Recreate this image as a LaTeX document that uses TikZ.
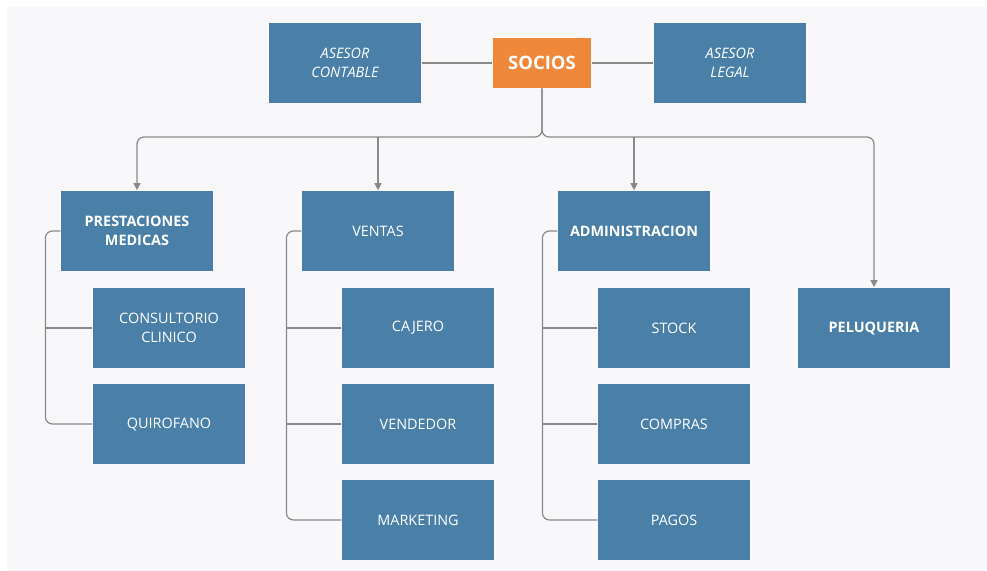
\documentclass[tikz,border=0pt]{standalone}
\usepackage{fontspec}
\setmainfont{Open Sans}
\usepackage{tikz}
\usetikzlibrary{arrows.meta}
\definecolor{boxblue}{HTML}{4A7FA7}
\definecolor{boxorange}{HTML}{F0883C}
\definecolor{linegray}{HTML}{8A8A8A}
\definecolor{paper}{HTML}{F8F8FB}
\tikzset{
    area/.style={fill=boxblue, text=white, minimum width=3.05cm, minimum height=1.62cm,
        align=center, font=\fontsize{8.2}{10.5}\selectfont, inner sep=2pt},
    head/.style={area, font=\fontsize{8.2}{10.5}\selectfont\bfseries},
    line/.style={draw=linegray, line width=0.7pt},
    arr/.style={line, -{Triangle[length=4pt,width=4pt]}}
}
\newcommand{\drawBracket}[2]{\draw [line, rounded corners=4pt] (#1.west) -- ++(-15,0) |- (#2.west)}

\begin{document}
\begin{tikzpicture}[x=0.02cm, y=-0.02cm]
    \fill [white] (0,0) rectangle (987,571);
    \fill [paper] (7,7) rectangle (987,571);
    \useasboundingbox (0,0) rectangle (987,571);

    %top row
    \node [fill=boxorange, text=white, minimum width=1.98cm, minimum height=1.0cm,
        font=\fontsize{10.5}{12}\selectfont\bfseries] (socios) at (542,63) {SOCIOS};
    \node [area, font=\fontsize{8.2}{10.5}\selectfont\itshape] (contable) at (345,63) {ASESOR\\CONTABLE};
    \node [area, font=\fontsize{8.2}{10.5}\selectfont\itshape] (legal) at (730,63) {ASESOR\\LEGAL};
    \draw [line] (contable) -- (socios);
    \draw [line] (socios) -- (legal);

    %second row
    \node [head] (prest) at (137,231) {PRESTACIONES\\MEDICAS};
    \node [area] (ventas) at (378,231) {VENTAS};
    \node [head] (admin) at (634,231) {ADMINISTRACION};
    \node [head] (peluq) at (874,328) {PELUQUERIA};

    %for socios
    \coordinate (trunk) at (542,137);
    \draw [arr, rounded corners=4pt] (socios.south) -- (trunk) -| (prest.north);
    \draw [arr, rounded corners=4pt] (socios.south) -- (trunk) -| (peluq.north);
    \draw [arr] (trunk -| ventas.north) -- (ventas.north);
    \draw [arr] (trunk -| admin.north) -- (admin.north);

    %for prestaciones medicas
    \node [area] (consult) at (169,328) {CONSULTORIO\\CLINICO};
    \node [area] (quirof) at (169,424) {QUIROFANO};
    \drawBracket{prest}{quirof};
    \draw [line] (consult.west) -- ++(-47,0);

    %for ventas
    \node [area] (cajero) at (418,328) {CAJERO};
    \node [area] (vended) at (418,424) {VENDEDOR};
    \node [area] (market) at (418,520) {MARKETING};
    \drawBracket{ventas}{market};
    \draw [line] (cajero.west) -- ++(-54,0);
    \draw [line] (vended.west) -- ++(-54,0);

    %for administracion
    \node [area] (stock) at (674,328) {STOCK};
    \node [area] (compras) at (674,424) {COMPRAS};
    \node [area] (pagos) at (674,520) {PAGOS};
    \drawBracket{admin}{pagos};
    \draw [line] (stock.west) -- ++(-55,0);
    \draw [line] (compras.west) -- ++(-55,0);
\end{tikzpicture}
\end{document}
